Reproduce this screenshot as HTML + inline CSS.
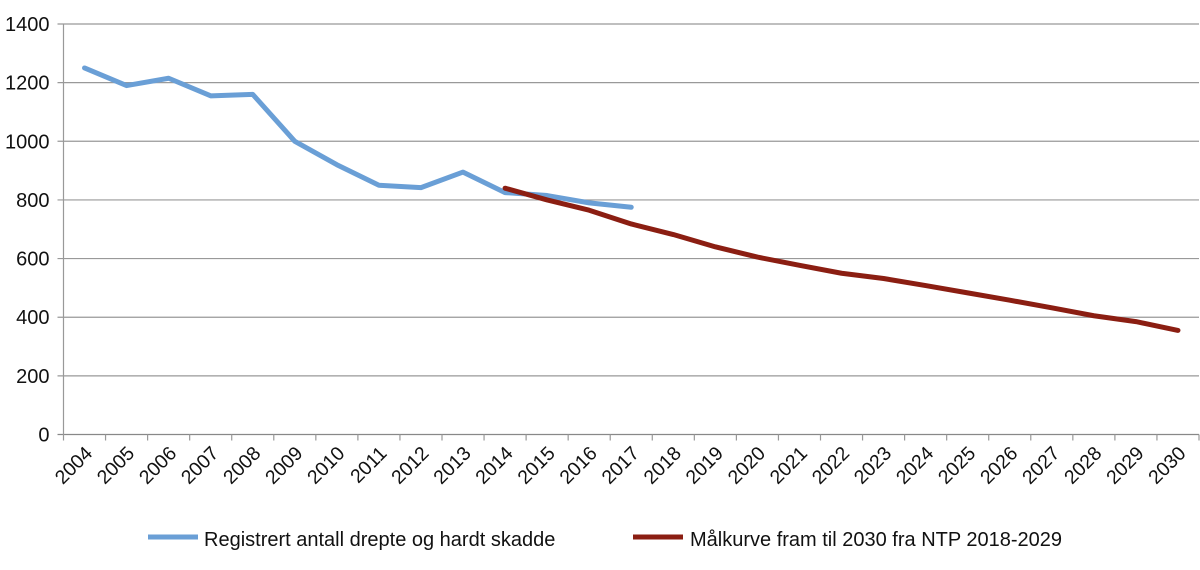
<!DOCTYPE html>
<html><head><meta charset="utf-8"><style>
body{margin:0;background:#fff;}
svg text{font-family:"Liberation Sans",Arial,sans-serif;fill:#111;}
</style></head><body>
<svg id="chart" width="1200" height="565" xmlns="http://www.w3.org/2000/svg">
<g id="grid"></g>
<g id="axes"></g>
<g id="series"></g>
<g>
<line x1="148" y1="537" x2="198" y2="537" stroke="#6a9fd6" stroke-width="5"/>
<text x="204" y="546" font-size="20">Registrert antall drepte og hardt skadde</text>
<line x1="633" y1="537" x2="683" y2="537" stroke="#8b1e12" stroke-width="5"/>
<text x="690" y="546" font-size="20">Målkurve fram til 2030 fra NTP 2018-2029</text>
</g>
</svg>
<script>
const years=[2004,2005,2006,2007,2008,2009,2010,2011,2012,2013,2014,2015,2016,2017,2018,2019,2020,2021,2022,2023,2024,2025,2026,2027,2028,2029,2030];
const registrert=[1250,1190,1215,1155,1160,1000,920,850,842,895,825,815,790,775];
const malkurve=[840,800,765,718,682,640,605,577,550,532,508,483,458,432,405,385,355];
const malStartIndex=10;
const yTicks=[0,200,400,600,800,1000,1200,1400];
const NS="http://www.w3.org/2000/svg";
const L=63.5,R=1199,T=24,B=434.5,yMax=1400;
const bw=(R-L)/years.length;
const x=i=>L+bw*(i+0.5);
const y=v=>B-(v/yMax)*(B-T);
function mk(tag,attrs,parent){const e=document.createElementNS(NS,tag);for(const k in attrs)e.setAttribute(k,attrs[k]);parent.appendChild(e);return e;}
const grid=document.getElementById('grid'),axes=document.getElementById('axes'),series=document.getElementById('series');
yTicks.forEach(v=>{
 const gl=mk('line',{x1:L-6,x2:R,y1:y(v),y2:y(v),stroke:v===0?'#888':'#999','stroke-width':1.2},grid);
 
 
 const t=mk('text',{x:L-14,y:y(v)+7,'text-anchor':'end','font-size':20},axes);
 t.textContent=v;
 
 
});
const ya=mk('line',{x1:L,x2:L,y1:T,y2:B,stroke:'#999','stroke-width':1.2},axes);


for(let i=0;i<=years.length;i++){
 const tk=mk('line',{x1:L+bw*i,x2:L+bw*i,y1:B,y2:B+6,stroke:'#999','stroke-width':1.2},axes);
 
 
}
years.forEach((yr,i)=>{
 const cx=x(i)+9,cy=B+20;
 const t=mk('text',{x:cx,y:cy,'text-anchor':'end','font-size':19.5,transform:`rotate(-45 ${cx} ${cy})`},axes);
 t.textContent=yr;
 
 
});
const p1=mk('polyline',{points:registrert.map((v,i)=>x(i)+','+y(v)).join(' '),fill:'none',stroke:'#6a9fd6','stroke-width':5,'stroke-linejoin':'round','stroke-linecap':'round'},series);


const p2=mk('polyline',{points:malkurve.map((v,i)=>x(i+malStartIndex)+','+y(v)).join(' '),fill:'none',stroke:'#8b1e12','stroke-width':5,'stroke-linejoin':'round','stroke-linecap':'round'},series);


</script>
</body></html>
